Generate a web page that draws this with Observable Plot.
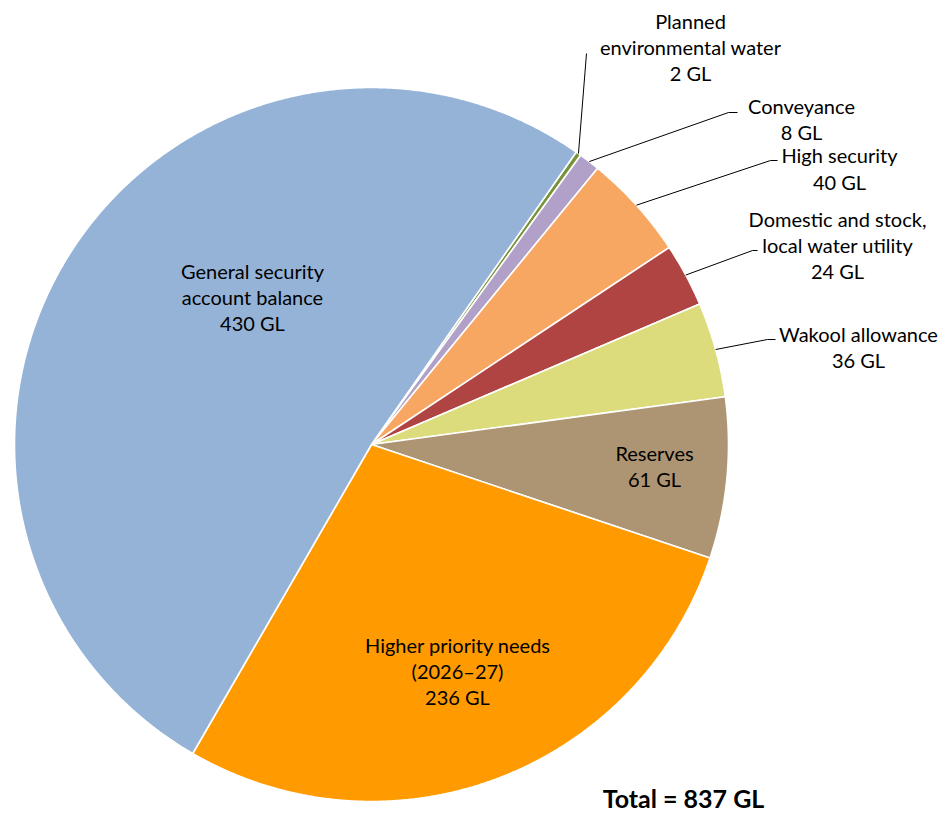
<!DOCTYPE html>
<html>
<head>
<meta charset="utf-8">
<script src="https://cdn.jsdelivr.net/npm/d3@7"></script>
<script src="https://cdn.jsdelivr.net/npm/@observablehq/plot@0.6"></script>
<style>
  html, body { margin: 0; padding: 0; background: #fff; }
  #chart svg { display: block; }
</style>
</head>
<body>
<div id="chart"></div>
<script>
// ---- Data ----
const categories = [
  "Planned environmental water",
  "Conveyance",
  "High security",
  "Domestic and stock, local water utility",
  "Wakool allowance",
  "Reserves",
  "Higher priority needs (2026–27)",
  "General security account balance"
];
const labelLines = [
  ["Planned", "environmental water"],
  ["Conveyance"],
  ["High security"],
  ["Domestic and stock,", "local water utility"],
  ["Wakool allowance"],
  ["Reserves"],
  ["Higher priority needs", "(2026–27)"],
  ["General security", "account balance"]
];
const values = [2, 8, 40, 24, 36, 61, 236, 430];
const unit = "GL";
const totalLabel = "Total = 837 GL";
const colors = ["#77933C", "#B1A0C7", "#F8A762", "#B04442", "#DCDC7C", "#AD9472", "#FF9A00", "#95B3D7"];

// ---- Layout (pixel space) ----
const W = 946, H = 816;
const cx = 371, cy = 444, R = 357;
const startDeg = 35;
const font = "Lato, 'Open Sans', sans-serif";
const labelPos = [
  {x: 690, y: 46}, {x: 801, y: 118}, {x: 839, y: 167.5}, {x: 837, y: 244},
  {x: 858, y: 346}, {x: 654, y: 465}, {x: 457, y: 670}, {x: 252, y: 296}
];
const leaders = [ // elbow + end for outside labels (null = inside label)
  [[586, 53]], [[728, 112], [737, 112]], [[770, 160], [777, 160]],
  [[752, 250], [757, 250]], [[767, 339], [775, 339]], null, null, null
];
const totalPos = {x: 683, y: 799};

// ---- Build geometry from values ----
const arcs = d3.pie().sort(null)
  .startAngle(startDeg * Math.PI / 180)
  .endAngle(startDeg * Math.PI / 180 + 2 * Math.PI)(values);

const slicePts = [];
arcs.forEach((a, i) => {
  const name = categories[i];
  slicePts.push({name, px: cx, py: cy});
  const n = Math.max(4, Math.ceil((a.endAngle - a.startAngle) / 0.005));
  for (let k = 0; k <= n; k++) {
    const t = a.startAngle + (a.endAngle - a.startAngle) * k / n;
    slicePts.push({name, px: cx + R * Math.sin(t), py: cy - R * Math.cos(t)});
  }
  slicePts.push({name, px: cx, py: cy});
});

const leaderPts = [];
arcs.forEach((a, i) => {
  if (!leaders[i]) return;
  const m = (a.startAngle + a.endAngle) / 2;
  leaderPts.push({name: categories[i], px: cx + R * Math.sin(m), py: cy - R * Math.cos(m)});
  leaders[i].forEach(([px, py]) => leaderPts.push({name: categories[i], px, py}));
});

const labels = categories.map((c, i) => ({
  name: c,
  text: [...labelLines[i], `${values[i]} ${unit}`].join("\n"),
  px: labelPos[i].x, py: labelPos[i].y
}));

const chart = Plot.plot({
  width: W, height: H,
  margin: 0,
  x: {domain: [0, W], range: [0, W], axis: null},
  y: {domain: [0, H], range: [0, H], axis: null},
  color: {type: "ordinal", domain: categories, range: colors},
  style: {fontFamily: font, background: "#fff"},
  marks: [
    Plot.line(slicePts, {x: "px", y: "py", z: "name", fill: "name", stroke: "white", strokeWidth: 1.6, strokeLinejoin: "round"}),
    Plot.line(leaderPts, {x: "px", y: "py", z: "name", stroke: "#000", strokeWidth: 1, strokeLinecap: "butt", strokeLinejoin: "miter"}),
    Plot.text(labels, {x: "px", y: "py", text: "text", fontSize: 20, lineHeight: 1.32, textAnchor: "middle", fill: "#000", fontFamily: font}),
    Plot.text([totalLabel], {x: () => totalPos.x, y: () => totalPos.y, text: d => d, fontSize: 25, fontWeight: "bold", textAnchor: "middle", fill: "#000", fontFamily: font})
  ]
});
document.getElementById("chart").appendChild(chart);
</script>
</body>
</html>
